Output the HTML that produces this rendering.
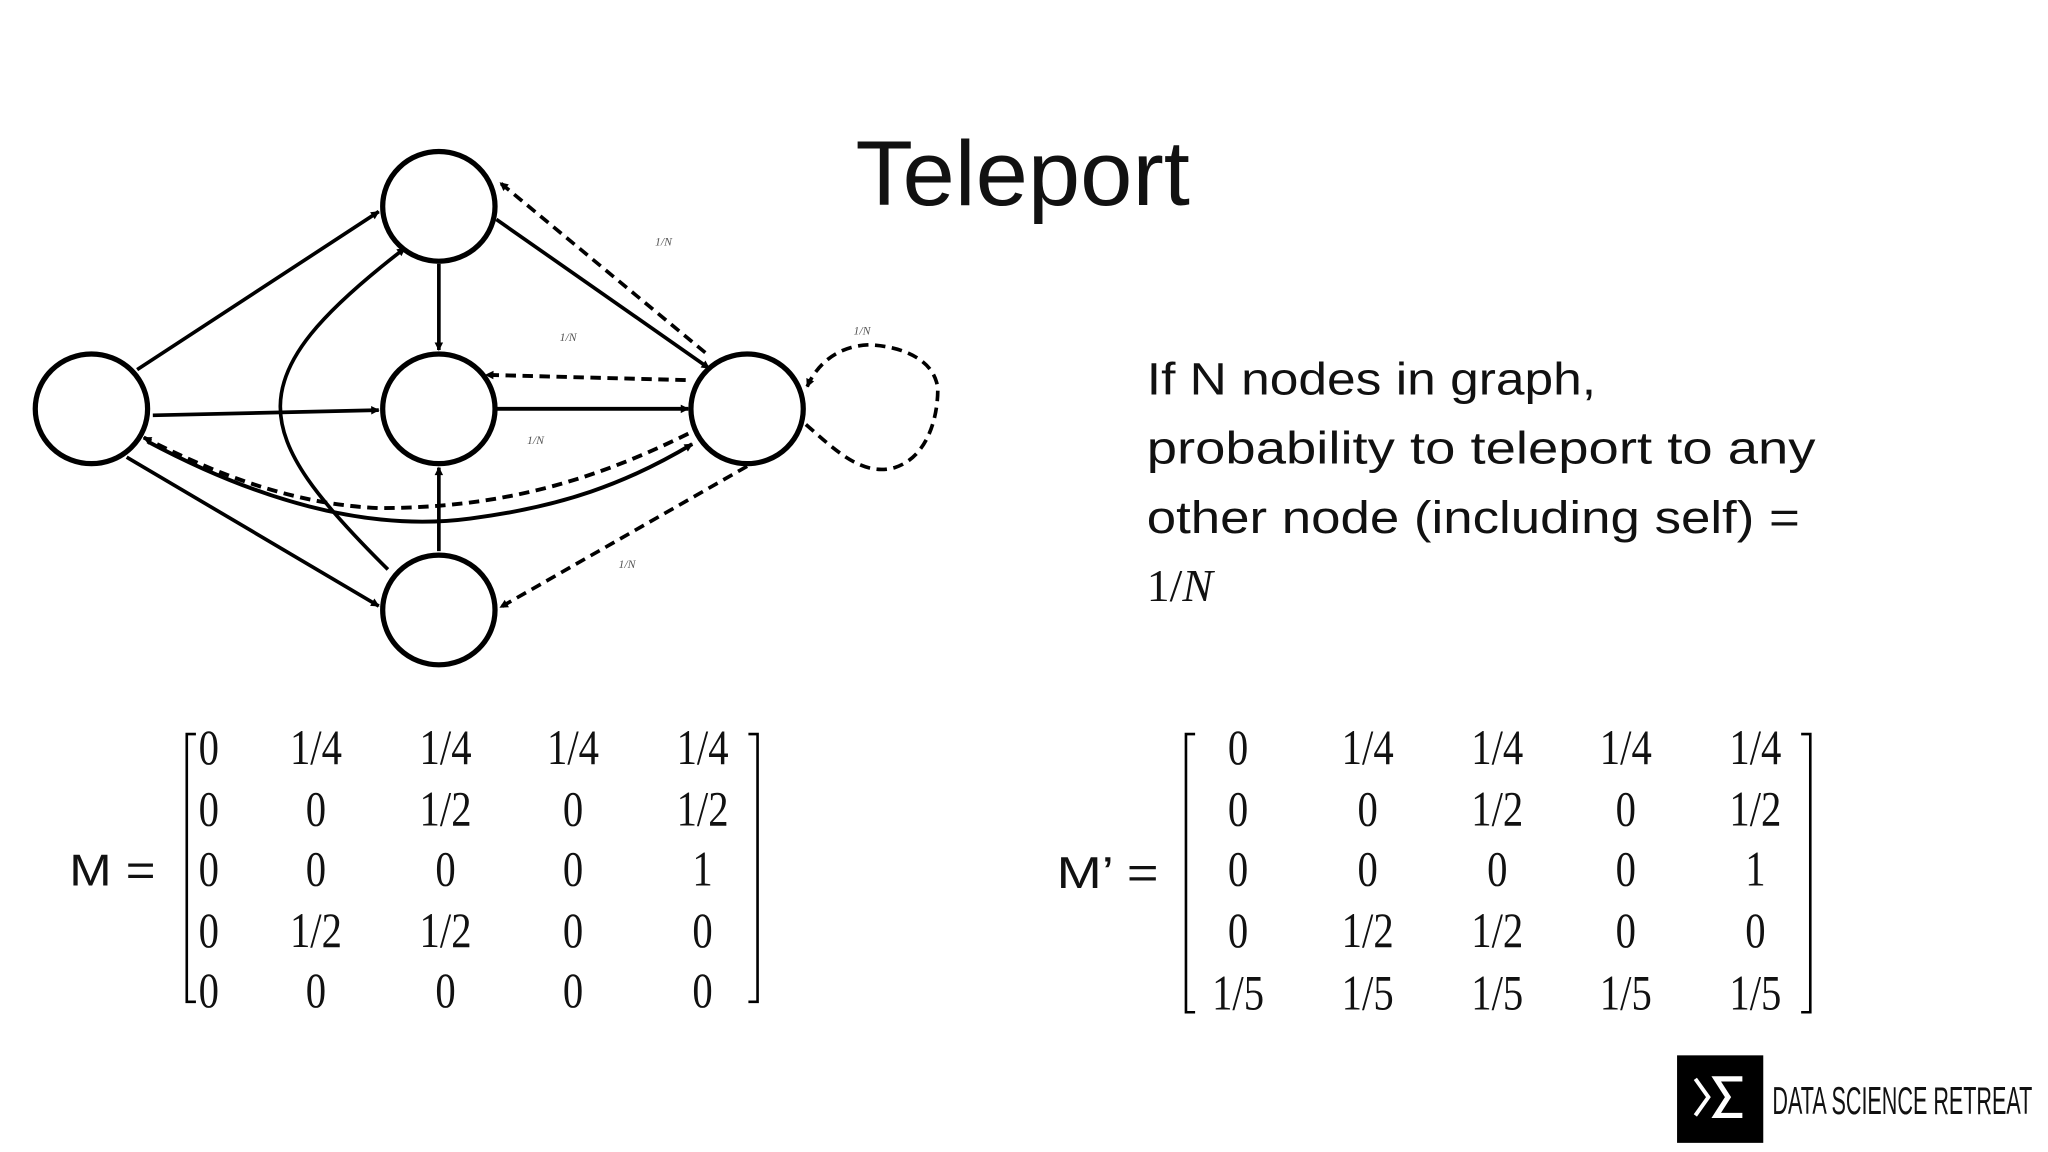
<!DOCTYPE html>
<html><head><meta charset="utf-8"><style>
html,body{margin:0;padding:0;background:#fff;}
svg{display:block;}
</style></head><body>
<svg width="2048" height="1152" viewBox="0 0 1568 882" xmlns="http://www.w3.org/2000/svg">
<defs>
<marker id="a" viewBox="0 0 10 10" refX="9" refY="5" markerWidth="5" markerHeight="5" orient="auto-start-reverse" markerUnits="userSpaceOnUse" style="overflow:visible">
<path d="M0,0 L10,5 L0,10 z" fill="#000" transform="scale(1.3) translate(-2,-1.15)"/>
</marker>
</defs>
<rect width="1568" height="882" fill="#fff"/>
<text x="783" y="157" font-family="Liberation Sans, sans-serif" font-size="70" text-anchor="middle" fill="#111" textLength="256" lengthAdjust="spacingAndGlyphs">Teleport</text>

<g fill="none" stroke="#000" stroke-width="2.8" marker-end="url(#a)">
<line x1="105" y1="283" x2="290" y2="162"/>
<line x1="117" y1="318" x2="290" y2="314"/>
<line x1="97" y1="350" x2="290" y2="464"/>
<line x1="336" y1="202" x2="336" y2="268"/>
<line x1="336" y1="422" x2="336" y2="358"/>
<line x1="380" y1="168" x2="543" y2="282"/>
<line x1="380" y1="313" x2="527" y2="313" stroke-width="3"/>
<path d="M113,338 C220,395 300,405 360,397 C430,388 480,370 530,340" stroke-width="3"/>
<path d="M297,436 C190,330 180,290 310,190"/>
</g>
<g fill="none" stroke="#000" stroke-width="2.8" stroke-dasharray="8,5" marker-end="url(#a)">
<line x1="540" y1="270" x2="383" y2="140"/>
<line x1="525" y1="291" x2="372" y2="287" stroke-width="3"/>
<path d="M527,332 C450,370 380,389 290,389 C220,386 160,360 110,335" stroke-width="3"/>
<line x1="572" y1="357" x2="383" y2="465"/>
<path d="M617,325 C640,345 660,365 685,358 C710,350 718,320 718,298 C716,275 690,265 665,264 C640,265 625,280 618,296"/>
</g>
<g fill="#fff" stroke="#000" stroke-width="4">
<ellipse cx="70" cy="313" rx="43" ry="42"/>
<ellipse cx="336" cy="158" rx="43" ry="42"/>
<ellipse cx="336" cy="313" rx="43" ry="42"/>
<ellipse cx="572" cy="313" rx="43" ry="42"/>
<ellipse cx="336" cy="467" rx="43" ry="42"/>
</g>
<g font-family="Liberation Serif, serif" font-style="italic" font-size="9" fill="#555" text-anchor="middle">
<text x="508" y="188">1/N</text>
<text x="435" y="261">1/N</text>
<text x="660" y="256">1/N</text>
<text x="410" y="340">1/N</text>
<text x="480" y="435">1/N</text>
</g>

<g font-family="Liberation Sans, sans-serif" font-size="35" fill="#111">
<text x="878" y="302" textLength="344" lengthAdjust="spacingAndGlyphs">If N nodes in graph,</text>
<text x="878" y="355" textLength="512" lengthAdjust="spacingAndGlyphs">probability to teleport to any</text>
<text x="878" y="408" textLength="500" lengthAdjust="spacingAndGlyphs">other node (including self) =</text>
<text x="878" y="460" font-family="Liberation Serif, serif">1/<tspan font-style="italic">N</tspan></text>
</g>

<g font-family="Liberation Serif, serif" font-size="38" fill="#111" text-anchor="middle">
<text x="86" y="678" font-family="Liberation Sans, sans-serif" font-size="34" textLength="66" lengthAdjust="spacingAndGlyphs">M =</text>
<text x="848" y="680" font-family="Liberation Sans, sans-serif" font-size="34" textLength="78" lengthAdjust="spacingAndGlyphs">M’ =</text>
</g>
<g fill="none" stroke="#000" stroke-width="2">
<path d="M150,562 H143 V767 H150"/>
<path d="M573,562 H580 V767 H573"/>
<path d="M915,562 H908 V775 H915"/>
<path d="M1379,562 H1386 V775 H1379"/>
</g>
<g font-family="Liberation Serif, serif" font-size="38" fill="#111" text-anchor="middle" transform="scale(0.82,1)">
<text x="195" y="585">0</text><text x="295" y="585">1/4</text><text x="416" y="585">1/4</text><text x="535" y="585">1/4</text><text x="656" y="585">1/4</text>
<text x="195" y="632">0</text><text x="295" y="632">0</text><text x="416" y="632">1/2</text><text x="535" y="632">0</text><text x="656" y="632">1/2</text>
<text x="195" y="678">0</text><text x="295" y="678">0</text><text x="416" y="678">0</text><text x="535" y="678">0</text><text x="656" y="678">1</text>
<text x="195" y="725">0</text><text x="295" y="725">1/2</text><text x="416" y="725">1/2</text><text x="535" y="725">0</text><text x="656" y="725">0</text>
<text x="195" y="771">0</text><text x="295" y="771">0</text><text x="416" y="771">0</text><text x="535" y="771">0</text><text x="656" y="771">0</text>
<text x="1156" y="585">0</text><text x="1277" y="585">1/4</text><text x="1398" y="585">1/4</text><text x="1518" y="585">1/4</text><text x="1639" y="585">1/4</text>
<text x="1156" y="632">0</text><text x="1277" y="632">0</text><text x="1398" y="632">1/2</text><text x="1518" y="632">0</text><text x="1639" y="632">1/2</text>
<text x="1156" y="678">0</text><text x="1277" y="678">0</text><text x="1398" y="678">0</text><text x="1518" y="678">0</text><text x="1639" y="678">1</text>
<text x="1156" y="725">0</text><text x="1277" y="725">1/2</text><text x="1398" y="725">1/2</text><text x="1518" y="725">0</text><text x="1639" y="725">0</text>
<text x="1156" y="773">1/5</text><text x="1277" y="773">1/5</text><text x="1398" y="773">1/5</text><text x="1518" y="773">1/5</text><text x="1639" y="773">1/5</text>
</g>

<rect x="1284" y="808" width="66" height="67" fill="#000"/>
<path d="M1298,826 L1308,840 L1298,854" fill="none" stroke="#fff" stroke-width="3"/>
<path d="M1334,826 H1314 L1323,840 L1314,854 H1334" fill="none" stroke="#fff" stroke-width="4"/>
<text x="1357" y="853" font-family="Liberation Sans, sans-serif" font-size="30" fill="#111" textLength="199" lengthAdjust="spacingAndGlyphs">DATA SCIENCE RETREAT</text>
</svg>
</body></html>
